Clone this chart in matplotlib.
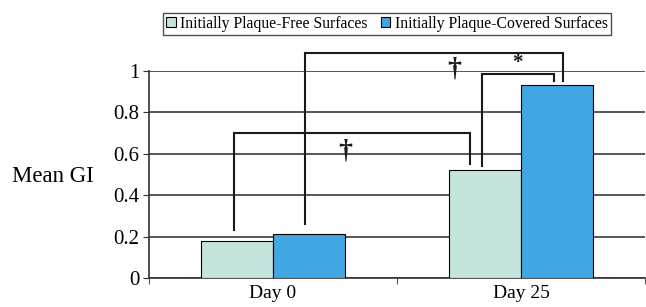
import matplotlib
matplotlib.use("Agg")
import matplotlib.pyplot as plt
import numpy as np
from matplotlib.patches import Patch

categories = ["Day 0", "Day 25"]
series_names = ["Initially Plaque-Free Surfaces", "Initially Plaque-Covered Surfaces"]
plaque_free = [0.18, 0.523]
plaque_covered = [0.21, 0.933]
yticks = [0, 0.2, 0.4, 0.6, 0.8, 1]
ytick_labels = ["0", "0.2", "0.4", "0.6", "0.8", "1"]

# significance brackets: x_left, x_right, y_left_bottom, y_right_bottom, y_top
br_xl = [-0.157, 0.129, 0.843]
br_xr = [0.794, 1.169, 1.133]
br_yl = [0.23, 0.26, 0.54]
br_yr = [0.55, 0.95, 0.95]
br_yt = [0.70, 1.087, 0.985]
sym_text = ["\u2020", "\u2020", "*"]
sym_x = [0.29, 0.73, 0.984]
sym_y = [0.61, 1.01, 1.035]
sym_size = [20, 20, 15]

light = "#c4e4dc"
blue = "#41a6e2"
serif = ["Liberation Serif", "DejaVu Serif"]

fig = plt.figure(figsize=(6.46, 3.07), dpi=100)
ax = fig.add_axes([0.2307, 0.0945, 0.7678, 0.6755])

x = np.arange(len(categories))
w = 0.29
ax.bar(x - w/2, plaque_free, w, color=light, edgecolor="black", linewidth=0.8, zorder=3)
ax.bar(x + w/2, plaque_covered, w, color=blue, edgecolor="black", linewidth=0.8, zorder=3)

ax.set_xlim(-0.5, 1.5)
ax.set_ylim(0, 1)
ax.set_yticks(yticks)
ax.set_yticklabels(ytick_labels, fontfamily=serif, fontsize=15)
ax.yaxis.grid(True, color="#3a3a3a", linewidth=1.2, zorder=0)
ax.set_axisbelow(True)
ax.set_xticks([-0.5, 0.5, 1.5])
ax.set_xticklabels([])
ax.set_xticks(x, minor=True)
ax.set_xticklabels(categories, minor=True, fontfamily=serif, fontsize=14)
ax.tick_params(axis="x", which="minor", length=0, pad=5)
ax.tick_params(axis="x", which="major", length=4, direction="out", color="#555555")
ax.tick_params(axis="y", length=4, direction="out", color="#333333", pad=3)
for s in ["top", "right"]:
    ax.spines[s].set_visible(False)
ax.spines["left"].set_color("#333333")
ax.spines["left"].set_linewidth(1.2)
ax.spines["bottom"].set_color("#333333")
ax.spines["bottom"].set_linewidth(1.2)

for xl, xr, yl, yr, yt in zip(br_xl, br_xr, br_yl, br_yr, br_yt):
    ax.plot([xl, xl, xr, xr], [yl, yt, yt, yr], color="#1a1a1a", linewidth=1.5,
            clip_on=False, zorder=4, solid_joinstyle="miter")
for t, sx, sy, fs in zip(sym_text, sym_x, sym_y, sym_size):
    ax.text(sx, sy, t, ha="center", va="center", fontsize=fs, fontfamily=serif,
            fontweight="bold", color="#1a1a1a", zorder=5)

fig.text(12/646, 1 - 177/307, "Mean GI", fontfamily=serif, fontsize=16.5,
         ha="left", va="center")

handles = [Patch(facecolor=light, edgecolor="black", linewidth=0.8),
           Patch(facecolor=blue, edgecolor="black", linewidth=0.8)]
leg = fig.legend(handles, series_names, loc="center", bbox_to_anchor=(387/646, 1 - 24/307),
                 ncol=2, frameon=True, fancybox=False, prop={"family": serif, "size": 11.3},
                 handlelength=0.6, handleheight=0.6, handletextpad=0.3, columnspacing=0.8,
                 borderpad=0.2, edgecolor="#222222")
leg.get_frame().set_linewidth(1.0)

fig.savefig("out.png", dpi=100)
